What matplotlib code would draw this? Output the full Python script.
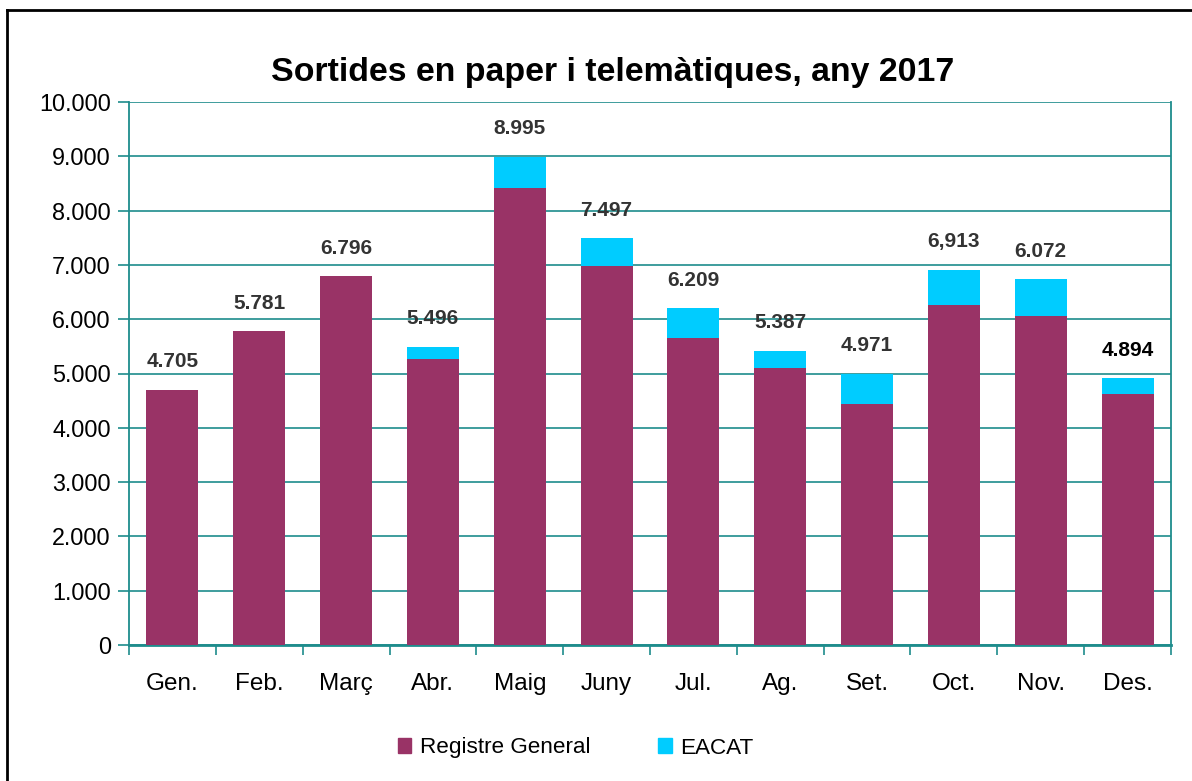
import numpy as np
import matplotlib
from matplotlib import pyplot as plt
from matplotlib.lines import Line2D
from matplotlib.patches import Patch

# Data
months = ['Gen.', 'Feb.', 'Març', 'Abr.', 'Maig', 'Juny', 'Jul.', 'Ag.',
	'Set.', 'Oct.', 'Nov.', 'Des.']
registre_general = [4705, 5781, 6796, 5260, 8410, 6975, 5650, 5100, 4430,
	6255, 6055, 4620]
eacat = [0, 0, 0, 236, 585, 522, 559, 320, 570, 658, 680, 294]
value_labels = ['4.705', '5.781', '6.796', '5.496', '8.995', '7.497', '6.209',
	'5.387', '4.971', '6,913', '6.072', '4.894']
yticks = [0, 1000, 2000, 3000, 4000, 5000, 6000, 7000, 8000, 9000, 10000]
ytick_labels = ['0', '1.000', '2.000', '3.000', '4.000', '5.000', '6.000',
	'7.000', '8.000', '9.000', '10.000']

# Plot parameters
matplotlib.rcParams['font.family'] = 'Liberation Sans'
col_rg = '#993366'
col_eacat = '#00CCFF'
col_grid = '#1E8C8C'

fig = plt.figure(figsize=(11.92, 7.81), dpi=100)
ax = fig.add_axes([129/1192, 1-645/781, (1171-129)/1192, (645-102)/781])

x = np.arange(len(months))
ax.bar(x, registre_general, width=0.6, color=col_rg, zorder=3)
ax.bar(x, eacat, width=0.6, bottom=registre_general, color=col_eacat, zorder=3)

totals = np.array(registre_general) + np.array(eacat)
for i, lab in enumerate(value_labels):
	c = 'black' if i == len(value_labels) - 1 else '#333333'
	ax.annotate(lab, (x[i], totals[i]), xytext=(0, 20), textcoords='offset points',
		ha='center', va='center', fontsize=15, fontweight='bold', color=c)

ax.set_xlim(-0.5, len(months) - 0.5)
ax.set_ylim(0, 10000)
ax.set_yticks(yticks)
ax.set_yticklabels(ytick_labels, fontsize=16.8)
ax.set_xticks(x)
ax.set_xticklabels(months, fontsize=17.5)
ax.set_xticks(np.arange(len(months) + 1) - 0.5, minor=True)
ax.tick_params(axis='x', which='major', length=0, pad=20)
ax.tick_params(axis='x', which='minor', length=7, width=1.2, color=col_grid)
ax.tick_params(axis='y', length=8, width=1.2, color=col_grid, pad=5)
ax.yaxis.grid(True, color=col_grid, linewidth=1.2, zorder=0)
ax.set_axisbelow(True)
for side in ['left', 'right', 'bottom']:
	ax.spines[side].set_color(col_grid)
	ax.spines[side].set_linewidth(1.3)
ax.spines['bottom'].set_linewidth(2)
ax.spines['top'].set_visible(False)

fig.text(613/1192, 1-73/781, 'Sortides en paper i telemàtiques, any 2017',
	ha='center', va='center', fontsize=24.4, fontweight='bold')

handles = [Patch(color=col_rg, label='Registre General'),
	Patch(color=col_eacat, label='EACAT')]
fig.legend(handles=handles, loc='center', bbox_to_anchor=(0.483, 1-748/781),
	ncol=2, frameon=False, fontsize=16.2, handlelength=0.6, handleheight=0.6,
	handletextpad=0.4, columnspacing=3.0)

# Outer border
fig.add_artist(Line2D([7/1192, 7/1192], [0, 1-10/781], color='black',
	linewidth=2, transform=fig.transFigure))
fig.add_artist(Line2D([7/1192, 1], [1-10/781, 1-10/781], color='black',
	linewidth=2, transform=fig.transFigure))

plt.savefig('out.png', dpi=100)
